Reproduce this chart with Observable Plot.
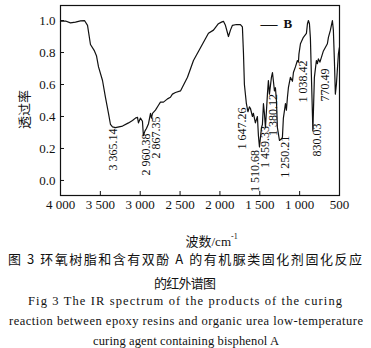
<!DOCTYPE html>
<html>
<head>
<meta charset="utf-8">
<script src="https://cdn.jsdelivr.net/npm/d3@7"></script>
<script src="https://cdn.jsdelivr.net/npm/@observablehq/plot@0.6"></script>
<style>
  html, body { margin: 0; padding: 0; background: #fff; }
  #wrap { width: 371px; height: 348px; position: relative; overflow: hidden; }
  #chart svg { display: block; }
  #cap { display: block; }
</style>
</head>
<body>
<div id="wrap">
  <div id="chart"></div>
  <svg id="cap" width="371" height="98"></svg>
</div>
<script>
// ---- data ----
const wavenumber = [4000,3937,3875,3812,3749,3699,3661,3624,3574,3549,
  3523,3473,3436,3398,3373,3348,3310,3222,3147,3097,
  3060,3034,3022,2997,2972,2960,2940,2922,2896,2871,
  2859,2846,2809,2771,2746,2708,2658,2621,2596,2558,
  2495,2407,2332,2244,2144,2081,2019,1981,1956,1931,
  1893,1868,1843,1793,1743,1718,1705,1693,1668,1649,
  1630,1617,1592,1580,1555,1530,1517,1504,1479,1467,
  1454,1442,1429,1404,1392,1379,1354,1341,1329,1316,
  1304,1291,1279,1253,1228,1216,1204,1178,1166,1153,
  1141,1116,1090,1078,1053,1028,1015,1009,990,953,
  915,902,890,877,865,852,834,815,790,777,
  765,746,727,702,652,639,614,589,577,564,
  552,539,514,502];
const transmittance = [0.996,0.997,0.985,0.99,0.998,1.0,0.97,0.85,0.81,0.78,
  0.71,0.625,0.52,0.42,0.35,0.335,0.33,0.34,0.36,0.375,
  0.39,0.395,0.36,0.39,0.37,0.28,0.31,0.325,0.355,0.42,
  0.39,0.42,0.44,0.47,0.49,0.49,0.51,0.52,0.54,0.55,
  0.56,0.645,0.75,0.83,0.92,0.94,0.98,0.99,0.995,0.97,
  0.90,0.94,0.97,0.975,0.975,0.96,0.8,0.6,0.48,0.43,
  0.46,0.45,0.40,0.42,0.36,0.40,0.28,0.21,0.33,0.35,
  0.48,0.42,0.33,0.54,0.625,0.54,0.645,0.675,0.62,0.56,
  0.58,0.5,0.33,0.25,0.26,0.27,0.39,0.48,0.44,0.52,
  0.58,0.645,0.62,0.675,0.71,0.75,0.74,0.79,0.855,0.895,
  0.92,0.98,1.0,0.98,0.89,0.645,0.31,0.645,0.75,0.73,
  0.76,0.74,0.77,0.81,0.855,0.895,0.94,1.0,0.94,0.75,
  0.54,0.6,0.79,0.83];

const peakLabels = ["3 365.14","2 960.38","2 867.35","1 647.26","1 510.68","1 459.33","1 380.12","1 250.21","1 038.42","830.03","770.49"];
const peakLabelX = [3335,2922,2796,1718,1555,1429,1329,1178,953,777,677];
const peakLabelTop = [0.325,0.294,0.40,0.456,0.19,0.34,0.54,0.28,0.75,0.356,0.70];

const xTicks = [4000,3500,3000,2500,2000,1500,1000,500];
const yTicks = [0.0,0.2,0.4,0.6,0.8,1.0];
const seriesName = "B";
const yTitle = "透过率";
const xTitle = "波数/cm";
const xTitleSup = "-1";

const captionLines = [
  "图 3  环氧树脂和含有双酚 A 的有机脲类固化剂固化反应",
  "的红外谱图",
  "Fig 3  The IR spectrum of the products of the curing",
  "reaction between epoxy resins and organic urea low-temperature",
  "curing agent containing bisphenol A"
];

// ---- build ----
const spectrum = wavenumber.map((w, i) => ({w, t: transmittance[i]}));
const peaks = peakLabels.map((s, i) => ({s, x: peakLabelX[i], y: peakLabelTop[i]}));
const fmtX = d => d >= 1000 ? String(d).replace(/(\d)(\d{3})$/, "$1 $2") : String(d);
const ink = "#111";
const serif = "Liberation Serif, DejaVu Serif, serif";
const cjk = "Liberation Serif, Noto Sans CJK SC, serif";

const chart = Plot.plot({
  width: 371,
  height: 250,
  marginLeft: 60,
  marginRight: 32,
  marginTop: 5,
  marginBottom: 55,
  style: {fontFamily: serif, fontSize: "13px", color: ink, background: "#fff"},
  x: {domain: [4000, 500]},
  y: {domain: [-0.094, 1.094]},
  marks: [
    Plot.frame({stroke: ink, strokeWidth: 1.2}),
    Plot.tickX(xTicks, {x: d => d, insetTop: 186, stroke: ink, strokeWidth: 1}),
    Plot.tickY(yTicks, {y: d => d, insetRight: 275, stroke: ink, strokeWidth: 1}),
    Plot.axisX(xTicks, {tickSize: 0, tickPadding: 4, tickFormat: fmtX, label: null, fontSize: 13}),
    Plot.axisY(yTicks, {tickSize: 0, tickPadding: 5, tickFormat: d3.format(".1f"), label: null, fontSize: 13}),
    Plot.line(spectrum, {x: "w", y: "t", stroke: ink, strokeWidth: 1.2, curve: "linear"}),
    Plot.text(peaks, {x: "x", y: "y", text: "s", rotate: -90, textAnchor: "end", lineAnchor: "middle", fontSize: 12, fill: ink}),
    Plot.text([yTitle], {frameAnchor: "left", dx: -36, dy: 9, rotate: -90, textAnchor: "middle", lineAnchor: "middle", fontFamily: "Noto Sans CJK SC", fontSize: 13, fill: ink}),
    Plot.text([xTitle], {frameAnchor: "bottom", dx: -14.5, dy: 46, textAnchor: "start", lineAnchor: "middle", fontFamily: cjk, fontSize: 13, fill: ink}),
    Plot.text([xTitleSup], {frameAnchor: "bottom", dx: 31, dy: 41, textAnchor: "start", lineAnchor: "middle", fontSize: 8, fill: ink}),
    Plot.text(["—"], {frameAnchor: "top-left", dx: 200, dy: 18, textAnchor: "start", lineAnchor: "middle", fontSize: 17, fill: ink}),
    Plot.text([seriesName], {frameAnchor: "top-left", dx: 223, dy: 18, textAnchor: "start", lineAnchor: "middle", fontSize: 13, fontWeight: "bold", fill: ink})
  ]
});
document.getElementById("chart").appendChild(chart);

// ---- caption below the chart ----
const cap = d3.select("#cap");
const capSpec = [
  {cx: 185, cy: 8,  len: 354, font: "Noto Sans CJK SC", size: 13},
  {cx: 185, cy: 32, len: 62,  font: "Noto Sans CJK SC", size: 13},
  {cx: 185, cy: 51, len: 314, font: serif, size: 12.5},
  {cx: 186, cy: 71, len: 354, font: serif, size: 12.5},
  {cx: 186, cy: 91, len: 186, font: serif, size: 12.5}
];
captionLines.forEach((line, i) => {
  const s = capSpec[i];
  cap.append("text")
    .attr("x", s.cx)
    .attr("y", s.cy)
    .attr("text-anchor", "middle")
    .attr("dominant-baseline", "central")
    .attr("font-family", s.font)
    .attr("font-size", s.size)
    .attr("fill", ink)
    .attr("textLength", s.len)
    .attr("lengthAdjust", "spacing")
    .text(line);
});
</script>
</body>
</html>
